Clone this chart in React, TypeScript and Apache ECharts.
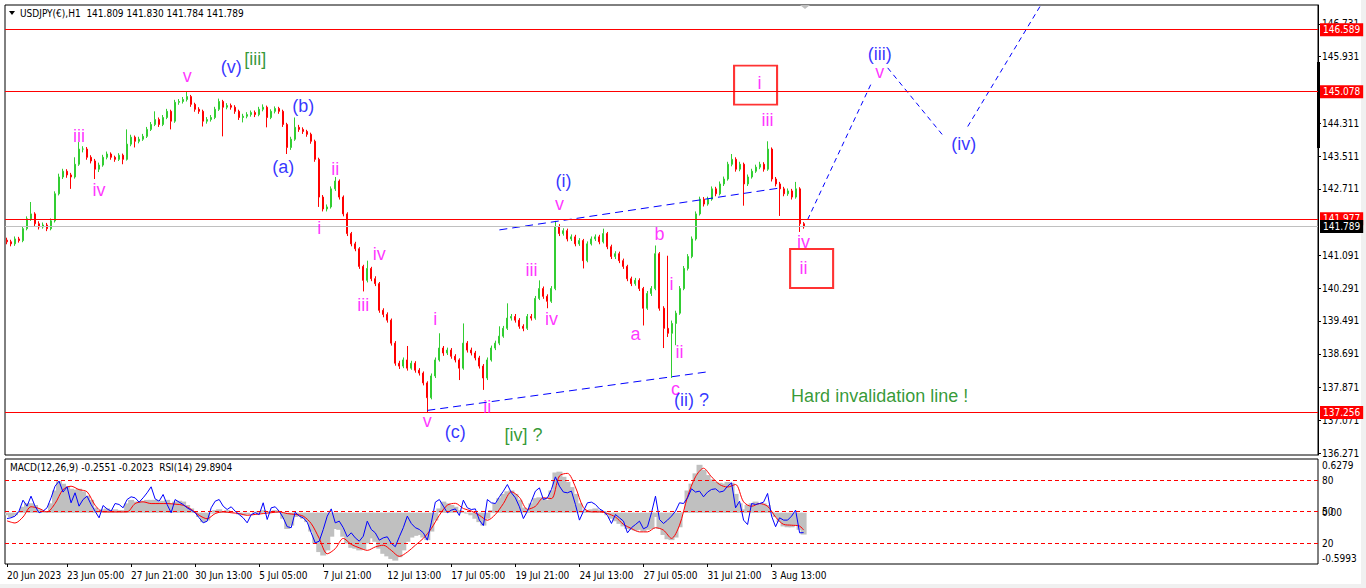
import React, { useEffect, useRef } from "react";
import * as echarts from "echarts";

// ---------------- data ----------------
const firstOpen = 141.46;
const closes = [
  141.42, 141.37, 141.49, 141.45, 141.74, 141.98, 142.10, 141.86, 141.78, 141.83,
  141.74, 141.93, 142.59, 143.00, 143.14, 143.05, 143.00, 143.31, 143.68, 143.68,
  143.48, 143.39, 143.19, 143.29, 143.48, 143.56, 143.48, 143.43, 143.53, 143.43,
  143.80, 143.97, 143.87, 143.92, 143.99, 144.16, 144.28, 144.40, 144.28, 144.45,
  144.60, 144.36, 144.82, 144.84, 144.89, 144.96, 144.77, 144.65, 144.60, 144.36,
  144.40, 144.45, 144.65, 144.84, 144.70, 144.74, 144.70, 144.60, 144.45, 144.48,
  144.52, 144.57, 144.52, 144.65, 144.70, 144.45, 144.60, 144.67, 144.60, 144.28,
  143.72, 143.92, 144.21, 144.16, 144.11, 144.04, 143.87, 143.43, 142.51, 142.22,
  142.27, 142.71, 142.90, 142.51, 142.10, 141.62, 141.37, 141.25, 140.82, 140.48,
  140.77, 140.52, 140.40, 139.75, 139.65, 139.51, 138.95, 138.46, 138.39, 138.54,
  138.34, 138.46, 138.29, 138.22, 137.98, 137.62, 138.15, 138.54, 138.83, 138.71,
  138.78, 138.63, 138.54, 138.34, 138.95, 138.78, 138.71, 138.59, 138.39, 138.10,
  138.54, 138.83, 138.95, 139.12, 139.31, 139.56, 139.60, 139.51, 139.36, 139.31,
  139.60, 139.56, 140.04, 140.28, 140.09, 139.97, 140.28, 141.79, 141.62, 141.69,
  141.49, 141.54, 141.37, 141.45, 140.96, 141.37, 141.49, 141.54, 141.42, 141.62,
  141.30, 141.06, 141.13, 140.96, 140.82, 140.52, 140.40, 140.48, 140.28, 139.80,
  140.16, 140.28, 141.13, 139.80, 139.31, 139.19, 139.43, 139.68, 140.28, 140.77,
  141.06, 141.49, 142.10, 142.46, 142.34, 142.46, 142.71, 142.59, 142.83, 142.95,
  143.31, 143.43, 143.19, 143.31, 142.83, 143.00, 143.14, 143.24, 143.31, 143.19,
  143.68, 142.95, 142.83, 142.71, 142.59, 142.66, 142.51, 142.71, 141.86, 141.789,
];
const highs = [
  141.52, 141.47, 141.55, 141.54, 141.80, 142.04, 142.39, 142.14, 141.92, 141.89,
  141.88, 141.99, 142.65, 143.08, 143.20, 143.19, 143.10, 143.48, 143.85, 143.75,
  143.73, 143.53, 143.44, 143.35, 143.54, 143.62, 143.60, 143.52, 143.58, 143.57,
  144.16, 144.03, 144.01, 143.98, 144.05, 144.22, 144.34, 144.60, 144.45, 144.51,
  144.66, 144.64, 144.88, 144.90, 144.95, 145.08, 145.00, 144.81, 144.70, 144.64,
  144.46, 144.51, 144.71, 144.91, 144.88, 144.80, 144.79, 144.75, 144.64, 144.54,
  144.58, 144.62, 144.62, 144.71, 144.77, 144.74, 144.65, 144.72, 144.71, 144.64,
  144.32, 143.98, 144.45, 144.27, 144.21, 144.15, 144.08, 143.91, 143.47, 142.56,
  142.33, 142.77, 143.00, 142.94, 142.55, 142.14, 141.66, 141.42, 141.29, 140.86,
  140.96, 140.81, 140.58, 140.44, 139.80, 139.70, 139.55, 139.00, 138.52, 138.60,
  138.88, 138.52, 138.51, 138.34, 138.26, 138.02, 138.21, 138.60, 139.19, 138.88,
  138.84, 138.83, 138.68, 138.58, 139.43, 139.00, 138.84, 138.76, 138.64, 138.44,
  138.60, 138.89, 139.01, 139.36, 139.37, 139.92, 139.66, 139.66, 139.56, 139.41,
  139.66, 139.66, 140.10, 140.48, 140.33, 140.14, 140.34, 141.93, 141.85, 141.75,
  141.74, 141.60, 141.59, 141.51, 141.49, 141.43, 141.55, 141.60, 141.59, 141.74,
  141.66, 141.35, 141.19, 141.18, 141.01, 140.86, 140.57, 140.54, 140.53, 140.32,
  140.22, 140.34, 141.33, 141.17, 139.85, 141.08, 139.50, 139.74, 140.34, 140.83,
  141.12, 141.55, 142.16, 142.52, 142.51, 142.52, 142.77, 142.76, 142.89, 143.01,
  143.37, 143.56, 143.48, 143.37, 143.35, 143.06, 143.20, 143.30, 143.37, 143.36,
  143.87, 143.72, 143.00, 142.88, 142.76, 142.72, 142.71, 142.88, 142.75, 141.90,
];
const lows = [
  141.36, 141.31, 141.32, 141.40, 141.41, 141.70, 141.93, 141.80, 141.72, 141.74,
  141.68, 141.70, 141.89, 142.55, 142.95, 142.98, 142.71, 142.96, 143.27, 143.60,
  143.42, 143.33, 142.95, 143.12, 143.25, 143.43, 143.42, 143.37, 143.39, 143.31,
  143.40, 143.75, 143.72, 143.82, 143.88, 143.95, 144.12, 144.24, 144.22, 144.24,
  144.41, 144.16, 144.32, 144.76, 144.79, 144.84, 144.71, 144.59, 144.54, 144.23,
  144.30, 144.35, 144.41, 144.61, 143.99, 144.65, 144.64, 144.54, 144.39, 144.33,
  144.43, 144.47, 144.46, 144.48, 144.60, 144.21, 144.41, 144.55, 144.54, 144.22,
  143.56, 143.66, 143.88, 144.10, 144.05, 143.98, 143.81, 143.37, 142.27, 142.16,
  142.16, 142.23, 142.66, 142.45, 142.04, 141.56, 141.31, 141.19, 140.76, 140.21,
  140.43, 140.46, 140.34, 139.69, 139.58, 139.45, 138.89, 138.40, 138.32, 138.34,
  138.28, 138.30, 138.23, 138.16, 137.92, 137.27, 137.58, 138.10, 138.50, 138.64,
  138.66, 138.57, 138.48, 138.05, 138.30, 138.72, 138.65, 138.53, 138.33, 137.81,
  138.05, 138.50, 138.78, 138.90, 139.08, 139.27, 139.50, 139.45, 139.30, 139.24,
  139.27, 139.50, 139.52, 140.00, 140.03, 139.80, 139.93, 140.24, 141.56, 141.57,
  141.43, 141.44, 141.31, 141.32, 140.77, 140.92, 141.33, 141.44, 141.36, 141.38,
  141.24, 141.00, 141.00, 140.90, 140.76, 140.46, 140.34, 140.35, 140.22, 139.38,
  139.76, 140.10, 140.24, 139.74, 138.83, 139.10, 138.10, 138.90, 139.64, 140.24,
  140.72, 141.02, 141.45, 142.06, 142.28, 142.30, 142.42, 142.53, 142.55, 142.78,
  142.91, 143.26, 143.13, 143.14, 142.30, 142.78, 142.96, 143.10, 143.19, 143.13,
  143.15, 142.89, 142.77, 142.05, 142.53, 142.54, 142.45, 142.47, 141.66, 141.74,
];
const macdHist = [
  -0.03, -0.05, -0.03, 0.01, 0.07, 0.11, 0.11, 0.09, 0.04, 0.01,
  0.02, 0.11, 0.26, 0.37, 0.34, 0.31, 0.28, 0.27, 0.28, 0.25,
  0.20, 0.15, 0.06, 0.03, 0.04, 0.05, 0.03, 0.04, 0.03, 0.03,
  0.11, 0.15, 0.13, 0.13, 0.14, 0.15, 0.15, 0.15, 0.13, 0.14,
  0.15, 0.11, 0.13, 0.14, 0.13, 0.09, 0.05, 0.01, -0.05, -0.11,
  -0.09, -0.01, 0.03, 0.04, 0.02, 0.03, 0.01, 0.0, -0.02, -0.03,
  -0.02, 0.0, 0.01, 0.02, 0.03, 0.01, 0.02, 0.03, 0.01, -0.07,
  -0.19, -0.15, -0.05, -0.04, -0.07, -0.11, -0.22, -0.36, -0.46, -0.50,
  -0.44, -0.28, -0.19, -0.20, -0.28, -0.36, -0.41, -0.42, -0.44, -0.43,
  -0.36, -0.30, -0.34, -0.42, -0.48, -0.51, -0.54, -0.56, -0.52, -0.44,
  -0.34, -0.29, -0.27, -0.26, -0.29, -0.32, -0.22, -0.09, 0.05, 0.13,
  0.11, 0.09, 0.07, 0.03, 0.01, -0.01, -0.03, -0.07, -0.11, -0.15,
  -0.07, 0.03, 0.11, 0.17, 0.22, 0.25, 0.26, 0.22, 0.15, 0.06,
  0.04, 0.11, 0.17, 0.18, 0.17, 0.15, 0.26, 0.47, 0.48, 0.42,
  0.36, 0.30, 0.22, 0.11, 0.01, 0.03, 0.04, 0.05, 0.03, 0.02,
  -0.03, -0.07, -0.10, -0.13, -0.16, -0.19, -0.20, -0.21, -0.20, -0.22,
  -0.20, -0.19, -0.05, -0.19, -0.26, -0.31, -0.32, -0.29, -0.17, 0.01,
  0.26, 0.34, 0.46, 0.56, 0.50, 0.44, 0.39, 0.36, 0.35, 0.34,
  0.36, 0.35, 0.22, 0.11, 0.04, 0.09, 0.11, 0.13, 0.11, 0.11,
  0.09, 0.01, -0.05, -0.11, -0.16, -0.17, -0.17, -0.15, -0.20, -0.2551,
];
const macdSignal: [number, number][] = [
  [0, -0.095], [2, -0.12], [4, -0.05], [6, 0.07], [8, 0.05], [10, 0.01], [12, 0.107], [14, 0.27],
  [16, 0.31], [18, 0.27], [20, 0.245], [22, 0.088], [24, 0.01], [26, 0.01], [28, 0.01], [30, 0.01],
  [32, 0.107], [34, 0.127], [36, 0.107], [38, 0.107], [40, 0.107], [42, 0.1], [44, 0.088], [46, 0.04],
  [48, -0.03], [50, -0.07], [52, -0.01], [54, 0.01], [56, 0], [58, -0.01], [60, -0.03], [62, -0.02],
  [64, -0.01], [66, 0], [68, 0.01], [70, -0.01], [72, -0.02], [74, -0.04], [76, -0.127], [78, -0.3],
  [80, -0.48], [82, -0.42], [84, -0.3], [86, -0.37], [88, -0.41], [90, -0.44], [92, -0.4], [94, -0.38],
  [96, -0.44], [98, -0.51], [100, -0.46], [102, -0.38], [104, -0.3], [106, -0.185], [108, -0.03], [110, 0.088],
  [112, 0.11], [114, 0.049], [116, 0.02], [118, -0.03], [120, -0.088], [122, -0.02], [124, 0.107], [126, 0.245],
  [128, 0.18], [130, 0.04], [132, 0.075], [134, 0.175], [136, 0.165], [138, 0.43], [140, 0.46], [142, 0.3],
  [144, 0.06], [146, 0.01], [148, 0.01], [150, -0.01], [152, -0.05], [154, -0.136], [156, -0.185], [158, -0.224],
  [160, -0.224], [162, -0.175], [164, -0.204], [166, -0.3], [168, -0.146], [170, 0.185], [172, 0.42], [174, 0.52],
  [176, 0.42], [178, 0.33], [180, 0.3], [182, 0.33], [184, 0.127], [186, 0.075], [188, 0.107], [190, 0.075],
  [192, -0.05], [194, -0.136], [196, -0.146], [198, -0.156], [199, -0.2023],
];
const rsi14 = [
  43.3, 44, 45.6, 50.3, 60.8, 55.1, 64.6, 55.1, 48.8, 50.3,
  53.5, 63, 74.1, 78.9, 68.5, 73.5, 58.3, 67.8, 55.1, 61.4,
  64.6, 56.7, 50.3, 44, 55.7, 52.5, 50.3, 57.6, 56.7, 53.5,
  61.4, 64, 63, 58.9, 63, 67.8, 73.5, 62, 59.8, 66.2,
  56.7, 48.8, 61.4, 58.9, 56.7, 53.5, 51.3, 48.8, 44, 39.2,
  40.8, 53.5, 59.8, 61.4, 55.1, 51.9, 54.5, 50.3, 47.1, 44,
  39.2, 47.1, 48.8, 47.1, 58.3, 42.4, 53.5, 54.5, 50.3, 44,
  35.5, 34.6, 49.4, 45.6, 44, 39.8, 29.7, 20.2, 21.7, 32.9,
  45.6, 52.5, 39.2, 40.8, 34.6, 25.9, 29.7, 24.9, 21.7, 26.5,
  40.8, 32.9, 29.7, 22.7, 24.9, 25.9, 19.6, 16.5, 25.9, 34.6,
  45.6, 38.6, 34.6, 32.9, 29.7, 22.7, 39.2, 58.9, 61.4, 55.1,
  48.8, 51.3, 52.5, 46.2, 60.8, 53.5, 51.9, 52.5, 41.8, 36.6,
  61.4, 58.3, 57.6, 64, 69.4, 75.7, 67.8, 63, 54.5, 43.3,
  50.3, 59.8, 69.4, 72.5, 61.4, 63, 71, 83, 74.1, 68.5,
  67.8, 69.4, 56.7, 41.8, 50.3, 58.3, 58.9, 56.7, 52.5, 50.3,
  46.2, 38.6, 47.1, 44, 40.8, 29.7, 34.6, 37.6, 40.8, 33.5,
  35.5, 48.8, 64.6, 42.4, 38.6, 41.8, 45.6, 50.3, 58.3, 57.6,
  63, 71.6, 68.5, 69.4, 64, 68.5, 71, 71.6, 68.5, 69.4,
  74.1, 77.3, 53.5, 59.8, 41.8, 37.6, 57.6, 56.7, 57.6, 58.9,
  67.2, 45.6, 35.5, 44, 41.8, 41.8, 45.6, 51.3, 29.7, 29.89,
];

const priceTicks = [146.731, 145.931, 144.311, 143.511, 142.711, 141.091, 140.291, 139.491, 138.691, 137.871, 137.071, 136.271];
const levelPrices = [146.589, 145.078, 141.977, 137.256];
const bidPrice = 141.789;
const rsiLevels = [20, 50, 80];
const macdMin = -0.5993;
const macdMax = 0.6279;
const xTickLabels = [
  "20 Jun 2023", "23 Jun 05:00", "27 Jun 21:00", "30 Jun 13:00", "5 Jul 05:00", "7 Jul 21:00", "12 Jul 13:00",
  "17 Jul 05:00", "19 Jul 21:00", "24 Jul 13:00", "27 Jul 05:00", "31 Jul 21:00", "3 Aug 13:00",
];
const xTickIndex = [0, 15, 31, 47, 63, 79, 95, 111, 127, 143, 159, 175, 191];
const SLOTS = 328;

const magentaLabels: [string, number, number][] = [
  ["v", 45, 145.45], ["iii", 18, 143.99], ["iv", 23, 142.68], ["ii", 82, 143.19], ["i", 78, 141.76],
  ["iv", 93, 141.13], ["iii", 89, 139.89], ["i", 107, 139.53], ["v", 105, 137.06], ["ii", 120, 137.4],
  ["v", 138, 142.34], ["iii", 131, 140.74], ["iv", 136, 139.55], ["b", 163, 141.62], ["a", 157, 139.17],
  ["i", 166, 140.4], ["ii", 168, 138.73], ["c", 167, 137.83], ["iii", 190, 144.38], ["i", 188, 145.28],
  ["iv", 199, 141.42], ["ii", 199, 140.79], ["v", 218, 145.57],
];
const blueLabels: [string, number, number][] = [
  ["(v)", 56, 145.69], ["(b)", 74, 144.72], ["(a)", 69, 143.24], ["(c)", 112, 136.79],
  ["(i)", 139, 142.9], ["(ii) ?", 171, 137.57], ["(iii)", 218, 146.0], ["(iv)", 239, 143.8],
];
const greenLabels: [string, number, number][] = [
  ["[iii]", 62, 145.88], ["[iv] ?", 129, 136.7], ["Hard invalidation line !", 218, 137.66],
];
const redBoxes: [number, number][] = [[187, 145.24], [201, 140.77]];
const channelUpper: [number, number][] = [[123, 141.71], [193, 142.73]];
const channelLower: [number, number][] = [[105, 137.31], [175, 138.25]];
const projection1: [number, number][] = [[200, 141.96], [216, 145.3]];
const projection2: [number, number][] = [[220, 145.66], [234, 143.99]];
const projection3: [number, number][] = [[240, 144.23], [259, 147.31]];

const AXIS_FONT = '"DejaVu Sans Condensed", "DejaVu Sans", sans-serif';
const LABEL_FONT = '"Liberation Sans", Arial, sans-serif';

export default function App() {
  const ref = useRef<HTMLDivElement>(null);

  useEffect(() => {
    const chart = echarts.init(ref.current as HTMLDivElement, null, { renderer: "svg" });
    const candles = closes.map((c, i) => [i === 0 ? firstOpen : closes[i - 1], c, lows[i], highs[i]]);
    const cats = Array.from({ length: SLOTS }, (_, i) => String(i));
    const tickSet = new Set(xTickIndex);
    const labelAt = (i: number) => {
      const k = xTickIndex.indexOf(i);
      return k >= 0 ? xTickLabels[k] : "";
    };

    const textSeries = (items: [string, number, number][], color: string) => ({
      type: "scatter",
      xAxisIndex: 0,
      yAxisIndex: 0,
      symbolSize: 1,
      silent: true,
      z: 6,
      itemStyle: { color: "rgba(0,0,0,0)" },
      label: { show: true, position: "inside", color, fontSize: 18, fontFamily: LABEL_FONT },
      data: items.map(([t, i, p]) => ({ value: [i, p], label: { formatter: t } })),
    });

    const dashed = (data: [number, number][], dash: number[]) => ({
      type: "line",
      xAxisIndex: 0,
      yAxisIndex: 0,
      data,
      symbol: "none",
      silent: true,
      z: 4,
      lineStyle: { color: "#0000FF", width: 1, type: dash },
    });

    const option: any = {
      animation: false,
      backgroundColor: "#ffffff",
      grid: [
        { left: 5, right: 48, top: 5, height: 450, show: true, borderColor: "#000", borderWidth: 1, backgroundColor: "transparent" },
        { left: 5, right: 48, top: 459, height: 105, show: true, borderColor: "#000", borderWidth: 1, backgroundColor: "transparent" },
      ],
      xAxis: [
        { gridIndex: 0, type: "category", data: cats, boundaryGap: true, show: false },
        {
          gridIndex: 1,
          type: "category",
          data: cats,
          boundaryGap: true,
          axisLine: { show: false },
          splitLine: { show: false },
          axisTick: { show: true, alignWithLabel: true, interval: (i: number) => tickSet.has(i), length: 3, lineStyle: { color: "#000" } },
          axisLabel: {
            show: true,
            interval: (i: number) => tickSet.has(i),
            formatter: (_v: string, i: number) => labelAt(i),
            align: "left",
            color: "#000",
            fontSize: 10,
            fontFamily: AXIS_FONT,
            margin: 6,
          },
        },
      ],
      yAxis: [
        {
          gridIndex: 0,
          type: "value",
          position: "right",
          min: 136.223,
          max: 147.192,
          splitLine: { show: false },
          axisLine: { show: true, lineStyle: { color: "#000" } },
          axisTick: { show: true, customValues: priceTicks, length: 3, lineStyle: { color: "#000" } },
          axisLabel: {
            customValues: priceTicks,
            formatter: (v: number) => v.toFixed(3),
            color: "#000",
            fontSize: 10,
            fontFamily: AXIS_FONT,
            margin: 4,
          },
        },
        {
          gridIndex: 1,
          type: "value",
          position: "right",
          min: 0,
          max: 100,
          splitLine: { show: false },
          axisLine: { show: false },
          axisTick: { show: false },
          axisLabel: { customValues: rsiLevels, color: "#000", fontSize: 10, fontFamily: AXIS_FONT, margin: 4 },
        },
        {
          gridIndex: 1,
          type: "value",
          position: "right",
          min: macdMin,
          max: macdMax,
          splitLine: { show: false },
          axisLine: { show: false },
          axisTick: { show: false },
          axisLabel: {
            customValues: [macdMax, 0, macdMin],
            formatter: (v: number) => (v > 0.3 ? `{t|${v.toFixed(4)}}` : v < -0.3 ? `{b|${v.toFixed(4)}}` : "0.00"),
            rich: {
              t: { padding: [13, 0, 0, 0], fontSize: 10, fontFamily: AXIS_FONT, color: "#000" },
              b: { padding: [0, 0, 11, 0], fontSize: 10, fontFamily: AXIS_FONT, color: "#000" },
            },
            color: "#000",
            fontSize: 10,
            fontFamily: AXIS_FONT,
            margin: 4,
          },
        },
      ],
      series: [
        {
          type: "candlestick",
          xAxisIndex: 0,
          yAxisIndex: 0,
          data: candles,
          barWidth: 1.5,
          itemStyle: { color: "#32CD32", color0: "#FF0000", borderColor: "#32CD32", borderColor0: "#FF0000", borderWidth: 1 },
          markLine: {
            symbol: ["none", "none"],
            silent: true,
            animation: false,
            label: {
              show: true,
              position: "end",
              distance: 2,
              color: "#fff",
              fontSize: 10,
              fontFamily: AXIS_FONT,
              padding: [2, 3, 1, 3],
            },
            data: [
              ...levelPrices.map((v) => ({
                yAxis: v,
                lineStyle: { color: "#FF0000", width: 1, type: "solid" },
                label: { backgroundColor: "#FF0000", formatter: v.toFixed(3) },
              })),
              {
                yAxis: bidPrice,
                lineStyle: { color: "#C0C0C0", width: 1, type: "solid" },
                label: { backgroundColor: "#000000", formatter: bidPrice.toFixed(3) },
              },
            ],
          },
        },
        dashed(channelUpper, [8, 5]),
        dashed(channelLower, [8, 5]),
        dashed(projection1, [5, 4]),
        dashed(projection2, [5, 4]),
        dashed(projection3, [5, 4]),
        textSeries(magentaLabels, "#FF00FF"),
        textSeries(blueLabels, "#0000FF"),
        textSeries(greenLabels, "#008000"),
        {
          type: "scatter",
          xAxisIndex: 0,
          yAxisIndex: 0,
          symbol: "rect",
          symbolSize: [43, 39],
          silent: true,
          z: 5,
          itemStyle: { color: "rgba(0,0,0,0)", borderColor: "#FF0000", borderWidth: 2 },
          data: redBoxes,
        },
        {
          type: "bar",
          xAxisIndex: 1,
          yAxisIndex: 2,
          data: macdHist,
          barWidth: 6,
          silent: true,
          itemStyle: { color: "#C0C0C0" },
        },
        {
          type: "line",
          xAxisIndex: 1,
          yAxisIndex: 2,
          data: macdSignal,
          symbol: "none",
          smooth: 0.3,
          silent: true,
          lineStyle: { color: "#FF0000", width: 1 },
        },
        {
          type: "line",
          xAxisIndex: 1,
          yAxisIndex: 1,
          data: rsi14,
          symbol: "none",
          silent: true,
          lineStyle: { color: "#0000FF", width: 1 },
          markLine: {
            symbol: ["none", "none"],
            silent: true,
            animation: false,
            label: { show: false },
            lineStyle: { color: "#FF0000", width: 1, type: [4, 3] },
            data: rsiLevels.map((v) => ({ yAxis: v })),
          },
        },
      ],
      graphic: [
        { type: "polygon", silent: true, shape: { points: [[9, 11], [15, 11], [12, 15]] }, style: { fill: "#000" } },
        {
          type: "text",
          silent: true,
          x: 20,
          y: 13,
          style: {
            text: "USDJPY(€),H1  141.809 141.830 141.784 141.789",
            fill: "#000",
            fontSize: 10,
            fontFamily: AXIS_FONT,
            verticalAlign: "middle",
          },
        },
        {
          type: "text",
          silent: true,
          x: 10,
          y: 467,
          style: {
            text: "MACD(12,26,9) -0.2551 -0.2023  RSI(14) 29.8904",
            fill: "#000",
            fontSize: 10,
            fontFamily: AXIS_FONT,
            verticalAlign: "middle",
          },
        },
        { type: "rect", silent: true, shape: { x: 1317, y: 62, width: 3, height: 86 }, style: { fill: "#000" } },
        { type: "polygon", silent: true, shape: { points: [[800, 5], [810, 5], [805, 9]] }, style: { fill: "#C0C0C0" } },
        { type: "rect", silent: true, shape: { x: 1361, y: 0, width: 5, height: 588 }, style: { fill: "#F0F0F0" } },
        { type: "rect", silent: true, shape: { x: 0, y: 584, width: 1366, height: 4 }, style: { fill: "#F0F0F0" } },
      ],
    };

    chart.setOption(option);
    return () => chart.dispose();
  }, []);

  return (
    <div
      ref={ref}
      style={{ position: "absolute", left: 0, top: 0, width: 1366, height: 588, background: "#fff" }}
    />
  );
}
